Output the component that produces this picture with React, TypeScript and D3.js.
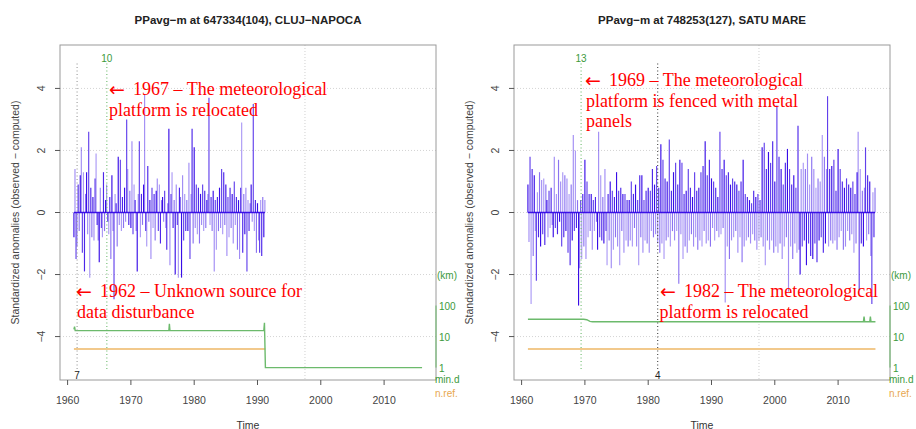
import React from 'react';
import * as d3 from 'd3';

const X_TICKS = [1960, 1970, 1980, 1990, 2000, 2010];
const Y_TICKS = [-4, -2, 0, 2, 4];
const KM_TICKS = [1, 10, 100];

// standardized anomalies, one value every two months starting at 1961.0
const CLUJ_ANOM = [
  -0.8, 1.4, -1.5, -1.1, 0.9, -0.6,
  1.2, 2.1, -1.3, 1.3, -1.9, 0.6,
  1.3, -0.7, 2.6, -2.1, 0.8, -0.8,
  0.5, -0.9, 1.1, 1.9, -0.4, -0.9,
  -1.6, 0.8, -0.5, -0.8, 1.3, -0.6,
  0.4, 0.9, -0.3, -0.7, 0.5, -1.5,
  1.2, -0.6, -2.8, 0.6, 0.3, -1.1,
  1.8, -0.4, 1.7, -0.6, 0.5, -0.5,
  0.8, -0.3, 3.0, 1.4, -0.4, 0.7,
  -0.5, 2.3, -0.7, 0.9, 0.4, -0.6,
  -1.9, 0.6, 2.3, -0.8, 0.6, -0.4,
  0.9, 3.8, -0.6, -1.1, 1.5, -0.3,
  0.4, -1.5, 0.8, -0.5, 0.6, -0.9,
  0.7, 1.1, -0.6, 0.9, -1.0, 0.4,
  0.5, -0.3, 0.7, -0.5, -1.2, 0.3,
  2.7, -1.7, 0.6, 1.3, -0.5, 0.4,
  -2.0, 0.9, -0.4, -2.1, 0.8, 0.5,
  -2.1, 1.2, -0.9, 0.6, -0.6, 0.4,
  -0.6, 1.6, -1.5, 0.6, 2.7, -1.0,
  2.1, -0.5, 0.9, -0.7, 0.8, -1.0,
  0.6, -0.4, 0.9, -0.6, 0.7, -0.5,
  0.4, 0.6, 3.7, -0.4, 0.5, -0.6,
  0.7, -1.9, 0.4, -1.2, 0.5, -0.6,
  0.8, -0.5, 1.4, -0.7, 1.3, -0.4,
  0.9, -1.4, 0.5, -0.8, 0.8, -0.5,
  0.6, -1.0, 1.0, -0.4, 0.5, -1.2,
  0.4, -1.5, 0.8, 2.9, -1.3, 0.6,
  -0.7, 0.8, -1.9, 0.4, -0.6, 0.3,
  0.9, -0.3, 3.5, -0.6, 0.4, -1.3,
  0.3, -0.9, -1.3, 0.4, -1.4, 0.5,
  -0.8, 0.4,
];

const SATU_ANOM = [
  0.9, -0.95, 1.8, -2.95, 1.4, -1.4,
  1.2, -0.6, -2.2, 0.65, -0.8, 1.3,
  -1.1, 1.05, -0.7, 1.1, -1.05, 0.9,
  0.4, -0.8, 0.7, -0.5, 0.8, -0.4,
  -0.8, 1.8, -0.5, 0.6, -0.7, 1.7,
  -0.3, 1.0, -1.1, 1.3, -0.8, 1.2,
  -0.6, 1.1, -1.3, 0.6, -1.7, 0.9,
  -0.9, 2.5, -0.6, 2.0, -0.5, 0.4,
  -3.0, -1.8, 0.4, -1.5, 0.6, -1.1,
  1.7, -1.5, 1.0, -0.8, 0.6, -0.6,
  0.6, -1.2, 0.4, -0.6, 0.5, -0.3,
  -1.2, 2.6, -0.8, 1.2, -0.9, 0.5,
  -1.0, 1.4, -0.6, -1.7, 0.6, -0.9,
  1.0, -1.8, 0.7, -1.2, 0.5, -0.8,
  1.3, -1.1, 0.7, -1.7, 0.8, -0.6,
  0.6, -1.3, 0.6, -0.9, 0.4, -1.1,
  0.4, -0.9, 1.0, -1.1, 0.6, -0.5,
  0.9, -1.1, 0.4, -1.7, 1.2, -0.8,
  1.2, -1.3, 0.4, -0.9, 0.7, -1.0,
  0.8, -1.3, 0.7, -0.6, 1.4, -0.8,
  0.9, -0.7, 1.5, -1.0, 0.8, -1.3,
  2.2, -1.0, 1.7, -1.5, 1.1, -0.9,
  1.0, -0.8, 2.35, -1.1, 0.7, -0.6,
  1.3, -0.9, 1.6, -0.6, 0.9, -2.3,
  1.7, -0.7, 1.6, -1.5, 0.6, -1.1,
  0.7, -1.3, 1.4, -0.9, 0.8, -0.7,
  0.5, -1.1, 1.3, -0.8, 0.7, -1.2,
  0.8, -0.9, 1.3, -1.1, 1.5, -0.6,
  2.3, -1.0, 1.2, -0.9, 1.7, -1.1,
  1.1, -0.5, 1.0, -0.9, 0.8, -0.6,
  0.5, -0.8, 2.6, -0.7, 1.4, -0.5,
  1.7, -2.9, 1.2, -1.1, 1.3, -1.5,
  0.9, -0.9, 1.1, -0.8, 1.0, -0.6,
  0.9, -1.3, 0.7, -0.8, 1.0, -1.6,
  1.7, -1.1, 0.6, -0.9, 0.5, -0.8,
  0.4, -1.0, 0.3, -0.7, 0.7, -0.9,
  0.5, -1.2, 0.6, -0.9, 0.4, -0.8,
  2.1, -1.1, 2.25, -1.7, 1.4, -0.9,
  1.95, -1.2, 1.6, -0.9, 2.3, -1.3,
  1.0, -1.1, 3.45, -1.3, 1.8, -1.0,
  1.4, -1.5, 0.9, -1.1, 1.6, -0.8,
  2.05, -2.55, 1.4, -1.1, 0.9, -1.5,
  1.2, -1.0, 0.8, -1.3, 2.8, -1.2,
  -2.0, 1.4, -1.1, 1.6, -0.9, 1.4,
  -1.7, 1.9, -1.0, 0.9, -1.4, 1.8,
  -1.5, 1.4, -1.0, 0.8, -1.6, 1.1,
  -0.9, 1.0, -0.8, 2.5, -1.3, 1.8,
  -1.0, 1.4, 3.75, -1.1, 1.4, -0.9,
  1.5, -1.0, 1.7, -0.9, 0.7, -1.2,
  2.05, -0.8, 1.4, -0.6, 1.0, -1.2,
  0.8, -1.1, 1.1, -0.6, 0.9, -0.9,
  0.8, -0.7, 1.0, -1.3, 0.6, -1.0,
  1.3, 2.6, -2.5, 1.4, -1.0, 0.7,
  -1.1, 0.8, 2.1, -0.9, 1.2, -0.7,
  1.0, -1.4, -2.95, 0.65, -0.8, 0.8,
];

// minimum distance to nearest reference (km) and number of references
const CLUJ_MIND_T = [1961.0, 1961.1, 1961.2, 1976.0, 1976.08, 1976.17, 1991.0, 1991.1, 1991.25, 2016.0];
const CLUJ_MIND_KM = [17, 21, 15.5, 15.5, 26, 15.5, 15.5, 28, 1, 1];
const CLUJ_NREF_T = [1961.0, 1991.25];
const CLUJ_NREF = [4, 4];

const SATU_MIND_T = [1961.0, 1969.8, 1970.3, 1970.8, 1971.2, 2014.0, 2014.1, 2014.2, 2015.0, 2015.1, 2015.2, 2015.9];
const SATU_MIND_KM = [36, 36, 35, 31, 30, 30, 44, 30, 30, 44, 30, 30];
const SATU_NREF_T = [1961.0, 2015.9];
const SATU_NREF = [4, 4];

const CLUJ_BREAKS = [1961.5, 1966.2];
const CLUJ_BREAK_LABELS = ['7', '10'];
const SATU_BREAKS = [1969.4, 1981.5];
const SATU_BREAK_LABELS = ['13', '4'];

const CLUJ_NOTES = [
  ['1967 \u2013 The meteorological', 'platform is relocated'],
  ['1962 \u2013 Unknown source for', 'data disturbance'],
];
const SATU_NOTES = [
  ['1969 \u2013 The meteorological', 'platform is fenced with metal', 'panels'],
  ['1982 \u2013 The meteorological', 'platform is relocated'],
];

const BOX = { left: 60, right: 436, top: 45, bottom: 380 };
const SANS = 'Liberation Sans, Arial, sans-serif';
const SERIF = 'Liberation Serif, Times New Roman, serif';
const BAR = '#2e00e6';
const SHADE = [0.95, 0.45, 0.75, 0.4, 0.85, 0.55];
const GREEN = '#6cba6c';

function Panel({ dx, title, anom, mindT, mindKm, nrefT, nref, breaks, breakLabels, breakStyles, notes }) {
  const x = d3.scaleLinear().domain([1958.8, 2018.2]).range([BOX.left, BOX.right]);
  const y = d3.scaleLinear().domain([-5.4, 5.4]).range([BOX.bottom, BOX.top]);
  const km = d3.scaleLog().domain([1, 100]).range([y(-5), y(-3)]);
  const t0 = 1961;

  const mindLine = d3.line<number>()
    .x((_, i) => x(mindT[i]))
    .y(d => km(d))(mindKm);
  const nrefLine = d3.line<number>()
    .x((_, i) => x(nrefT[i]))
    .y(d => km(d))(nref);
  const cx = (BOX.left + BOX.right) / 2;
  const cy = (BOX.top + BOX.bottom) / 2;

  return (
    <g transform={`translate(${dx},0)`}>
      <text x={cx} y={24} textAnchor="middle" fontFamily={SANS} fontWeight="bold" fontSize={11.5} fill="#222">{title}</text>

      {/* grid */}
      {Y_TICKS.map(v => (
        <line key={v} x1={BOX.left} x2={BOX.right} y1={y(v)} y2={y(v)} stroke="#d4d4d4" strokeDasharray="1,2" />
      ))}
      <line x1={x(1997.5)} x2={x(1997.5)} y1={BOX.top} y2={BOX.bottom} stroke="#d0d0d0" strokeDasharray="1,2" />

      {/* anomalies */}
      {anom.map((v, i) => (
        <line key={i} x1={x(t0 + i / 6)} x2={x(t0 + i / 6)} y1={y(0)} y2={y(v)}
          stroke={BAR} strokeOpacity={SHADE[i % SHADE.length]} strokeWidth={1.15} />
      ))}
      <line x1={x(t0)} x2={x(t0 + (anom.length - 1) / 6)} y1={y(0)} y2={y(0)} stroke={BAR} strokeWidth={1.5} strokeOpacity={0.9} />

      {/* distance and references */}
      <path d={nrefLine || ''} fill="none" stroke="#f2c98c" strokeWidth={2} />
      <path d={mindLine || ''} fill="none" stroke={GREEN} strokeWidth={1.4} />

      {/* breaks */}
      {breaks.map((b, i) => (
        <g key={i}>
          <line x1={x(b)} x2={x(b)} y1={y(4.8)} y2={y(-5.05)} stroke={breakStyles[i].color}
            strokeWidth={1.1} strokeDasharray="1,2.5" />
          <text x={x(b)} y={breakStyles[i].top ? 62 : 379} textAnchor="middle" fontFamily={SANS} fontSize={10}
            fill={breakStyles[i].top ? '#3c9a3c' : '#222'}>{breakLabels[i]}</text>
        </g>
      ))}

      {/* box and axes */}
      <rect x={BOX.left} y={BOX.top} width={BOX.right - BOX.left} height={BOX.bottom - BOX.top} fill="none" stroke="#9a9a9a" />
      {X_TICKS.map(t => (
        <g key={t}>
          <line x1={x(t)} x2={x(t)} y1={BOX.bottom} y2={BOX.bottom + 5} stroke="#555" />
          <text x={x(t)} y={404} textAnchor="middle" fontFamily={SANS} fontSize={10.5} fill="#444">{t}</text>
        </g>
      ))}
      {Y_TICKS.map(v => (
        <g key={v}>
          <line x1={BOX.left - 5} x2={BOX.left} y1={y(v)} y2={y(v)} stroke="#555" />
          <text transform={`translate(45,${y(v)}) rotate(-90)`} textAnchor="middle" fontFamily={SANS} fontSize={10.5} fill="#444">
            {v < 0 ? `\u2212${-v}` : v}
          </text>
        </g>
      ))}
      <line x1={BOX.right} x2={BOX.right} y1={km(1)} y2={km(100)} stroke={GREEN} />
      {KM_TICKS.map(k => (
        <text key={k} x={BOX.right + 3} y={km(k) + 4} fontFamily={SANS} fontSize={10} fill="#3c9a3c">{k}</text>
      ))}
      <text x={BOX.right + 1} y={km(1000) + 4} fontFamily={SANS} fontSize={10} fill="#3c9a3c">(km)</text>
      <text x={BOX.right - 1} y={383} fontFamily={SANS} fontSize={10} fill="#3c9a3c">min.d</text>
      <text x={BOX.right - 1} y={397} fontFamily={SANS} fontSize={10} fill="#e8a850">n.ref.</text>

      <text x={cx} y={428.5} textAnchor="middle" fontFamily={SANS} fontSize={10.5} fill="#333">Time</text>
      <text transform={`translate(19,${cy}) rotate(-90)`} textAnchor="middle" fontFamily={SANS} fontSize={10.5} fill="#444">
        Standardized anomalies (observed {'\u2212'} computed)
      </text>

      {/* notes */}
      {notes.map((n, i) => (
        <g key={i} fontFamily={SERIF} fontSize={18} fill="#ff0000">
          <text x={n.x - 1} y={n.y + 1} fontFamily="DejaVu Sans" fontSize={19}>{'\u2190'}</text>
          <text x={n.x + 23} y={n.y}>{n.lines[0]}</text>
          {n.lines.slice(1).map((l, j) => (
            <text key={j} x={n.x + n.indent} y={n.y + (j + 1) * 20.7}>{l}</text>
          ))}
        </g>
      ))}
    </g>
  );
}

export default function App() {
  return (
    <svg width={916} height={429} style={{ position: 'absolute', left: 0, top: 0, background: '#fff' }}>
      <Panel
        dx={0}
        title={'PPavg\u2212m at 647334(104), CLUJ\u2212NAPOCA'}
        anom={CLUJ_ANOM}
        mindT={CLUJ_MIND_T} mindKm={CLUJ_MIND_KM}
        nrefT={CLUJ_NREF_T} nref={CLUJ_NREF}
        breaks={CLUJ_BREAKS} breakLabels={CLUJ_BREAK_LABELS}
        breakStyles={[{ color: '#999', top: false }, { color: '#6cba6c', top: true }]}
        notes={[
          { lines: CLUJ_NOTES[0], x: 110, y: 95, indent: -1 },
          { lines: CLUJ_NOTES[1], x: 77, y: 297, indent: 0 },
        ]}
      />
      <Panel
        dx={454}
        title={'PPavg\u2212m at 748253(127), SATU MARE'}
        anom={SATU_ANOM}
        mindT={SATU_MIND_T} mindKm={SATU_MIND_KM}
        nrefT={SATU_NREF_T} nref={SATU_NREF}
        breaks={SATU_BREAKS} breakLabels={SATU_BREAK_LABELS}
        breakStyles={[{ color: '#6cba6c', top: true }, { color: '#444', top: false }]}
        notes={[
          { lines: SATU_NOTES[0], x: 132, y: 86, indent: 0 },
          { lines: SATU_NOTES[1], x: 207, y: 297, indent: -1.5 },
        ]}
      />
    </svg>
  );
}
